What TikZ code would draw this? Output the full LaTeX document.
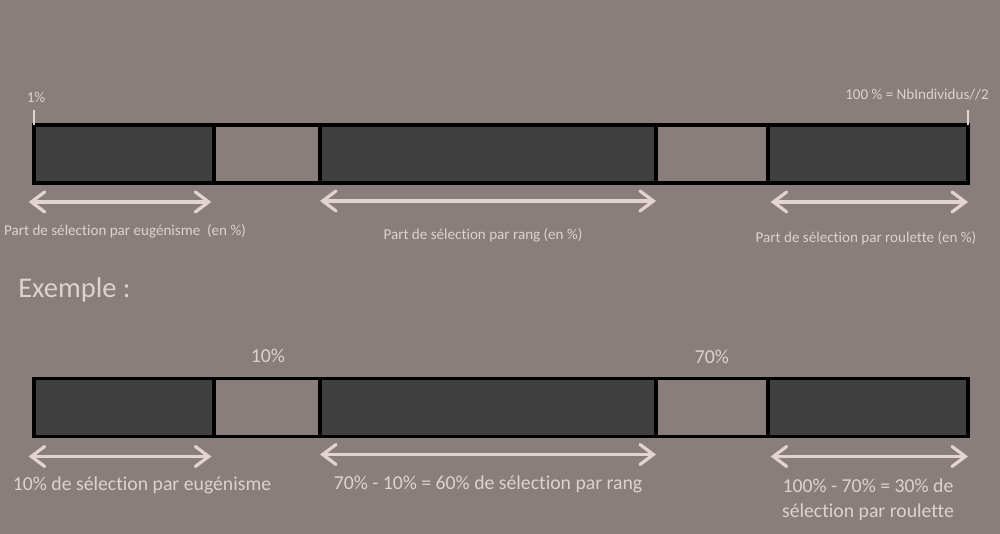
\documentclass[tikz,border=0pt]{standalone}
\usepackage{fontspec}
\setmainfont{Carlito}[Ligatures=NoCommon]
\usetikzlibrary{arrows.meta}
\definecolor{bgc}{RGB}{138,126,124}
\definecolor{darkseg}{RGB}{64,64,64}
\definecolor{pale}{RGB}{226,212,208}
\definecolor{txt}{RGB}{220,210,208}
\tikzset{
  seg/.style={draw=black, line width=2.3pt, inner sep=0pt, outer sep=0pt,
    minimum height=58*0.75pt, anchor=west},
  darkbox/.style={seg, fill=darkseg},
  gapbox/.style={seg, fill=bgc},
  span/.style={draw=pale, line width=2.4pt, line cap=round,
    {Straight Barb[length=10pt,width=15pt,line cap=round]}-{Straight Barb[length=10pt,width=15pt,line cap=round]}},
  tick/.style={draw=pale, line width=2.2pt},
  lbl/.style={text=txt, inner sep=0pt, font=\fontsize{11.3}{13}\selectfont},
  biglbl/.style={text=txt, inner sep=0pt, font=\fontsize{14.8}{18.5}\selectfont, align=center},
}
\begin{document}
\begin{tikzpicture}[x=0.75pt, y=-0.75pt]
\fill[bgc] (0,0) rectangle (1000,534);
\useasboundingbox (0,0) rectangle (1000,534);

% upper bar: general layout
\node[darkbox, minimum width=180*0.75pt] (a1) at (34,154) {};
\node[gapbox,  minimum width=106*0.75pt] (a2) at (214,154) {};
\node[darkbox, minimum width=336*0.75pt] (a3) at (320,154) {};
\node[gapbox,  minimum width=112*0.75pt] (a4) at (656,154) {};
\node[darkbox, minimum width=200*0.75pt] (a5) at (768,154) {};

\coordinate (t1a) at (34,110);
\coordinate (t2a) at (968,110);
\draw[tick] (t1a) -- (a1.north west);
\draw[tick] (t2a) -- (a5.north east);
\node[lbl] (p1) at (36,97) {1\%};
\node[lbl] (p100) at (917,95) {100 \% = NbIndividus//2};

\draw[span] ([xshift=-4, yshift=-19*0.75pt]a1.south west) -- ([xshift=-2, yshift=-19*0.75pt]a1.south east);
\draw[span] ([yshift=-18*0.75pt]a3.south west) -- ([yshift=-18*0.75pt]a3.south east);
\draw[span] ([xshift=2, yshift=-19*0.75pt]a5.south west) -- ([yshift=-19*0.75pt]a5.south east);

\node[lbl] (l1) at (125,231) {Part de sélection par eugénisme\ \ (en \%)};
\node[lbl] (l2) at (483,235) {Part de sélection par rang (en \%)};
\node[lbl] (l3) at (866,238) {Part de sélection par roulette (en \%)};

\node[text=txt, inner sep=0pt, anchor=west, font=\fontsize{21.4}{26}\selectfont] (ex) at (18,290) {Exemple :};

% lower bar: worked example
\node[darkbox, minimum width=180*0.75pt] (b1) at (34,407.5) {};
\node[gapbox,  minimum width=106*0.75pt] (b2) at (214,407.5) {};
\node[darkbox, minimum width=336*0.75pt] (b3) at (320,407.5) {};
\node[gapbox,  minimum width=112*0.75pt] (b4) at (656,407.5) {};
\node[darkbox, minimum width=200*0.75pt] (b5) at (768,407.5) {};

\node[biglbl] (v10) at (268,356) {10\%};
\node[biglbl] (v70) at (712,357) {70\%};

\draw[span] ([xshift=-4, yshift=-20*0.75pt]b1.south west) -- ([xshift=-2, yshift=-20*0.75pt]b1.south east);
\draw[span] ([yshift=-18*0.75pt]b3.south west) -- ([yshift=-18*0.75pt]b3.south east);
\draw[span] ([xshift=2, yshift=-20*0.75pt]b5.south west) -- ([yshift=-20*0.75pt]b5.south east);

\node[biglbl] (m1) at (142,485) {10\% de sélection par eugénisme};
\node[biglbl] (m2) at (488,484) {70\% - 10\% = 60\% de sélection par rang};
\node[biglbl] (m3) at (868,500) {100\% - 70\% = 30\% de\\sélection par roulette};
\end{tikzpicture}
\end{document}
